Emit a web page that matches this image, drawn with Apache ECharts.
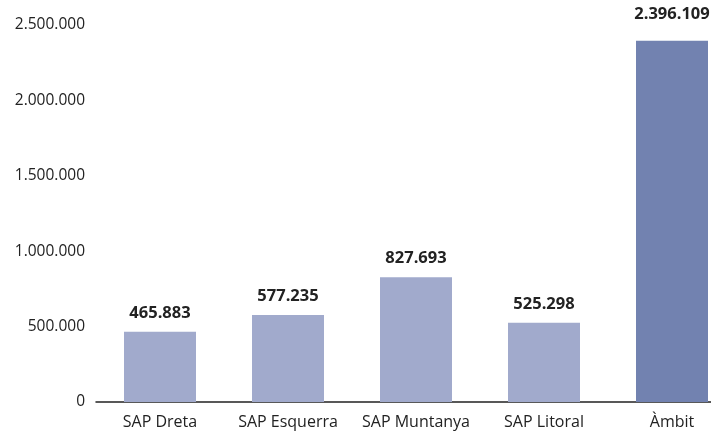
<!DOCTYPE html>
<html>
<head>
<meta charset="utf-8">
<script src="https://cdn.jsdelivr.net/npm/echarts@6/dist/echarts.min.js"></script>
<style>
  html, body { margin: 0; padding: 0; background: #fff; overflow: hidden; }
  #chart { width: 740px; height: 436px; }
</style>
</head>
<body>
<div id="chart"></div>
<script>
var categories = ['SAP Dreta', 'SAP Esquerra', 'SAP Muntanya', 'SAP Litoral', 'Àmbit'];
var values = [465883, 577235, 827693, 525298, 2396109];
var barColors = ['#a1aacc', '#a1aacc', '#a1aacc', '#a1aacc', '#7282b0'];

function fmt (v) {
    return String(v).replace(/\B(?=(\d{3})+(?!\d))/g, '.');
}

// chart is a bit wider than the window, the last category is cut off like in the original
var chart = echarts.init(document.getElementById('chart'));
chart.setOption({
    animation: false,
    textStyle: { fontFamily: 'Open Sans' },
    grid: { left: 96, top: 25, right: 4, bottom: 34 },
    xAxis: {
        type: 'category',
        data: categories,
        axisLine: { lineStyle: { color: '#222', width: 1.5 } },
        axisTick: { show: false },
        axisLabel: { color: '#222', fontSize: 16, margin: 12, interval: 0 }
    },
    yAxis: {
        type: 'value',
        min: 0,
        max: 2500000,
        interval: 500000,
        splitLine: { show: false },
        axisLine: { show: false },
        axisTick: { show: false },
        axisLabel: { color: '#222', fontSize: 15.5, margin: 11, formatter: fmt }
    },
    series: [{
        type: 'bar',
        barWidth: 72,
        data: values.map(function (v, i) {
            var item = { value: v, itemStyle: { color: barColors[i] } };
            if (i === 4) item.label = { distance: 18 };
            return item;
        }),
        label: {
            show: true,
            position: 'top',
            distance: 10,
            color: '#222',
            fontSize: 16.5,
            fontWeight: 'bold',
            formatter: function (p) { return fmt(p.value); }
        }
    }]
});
</script>
</body>
</html>
